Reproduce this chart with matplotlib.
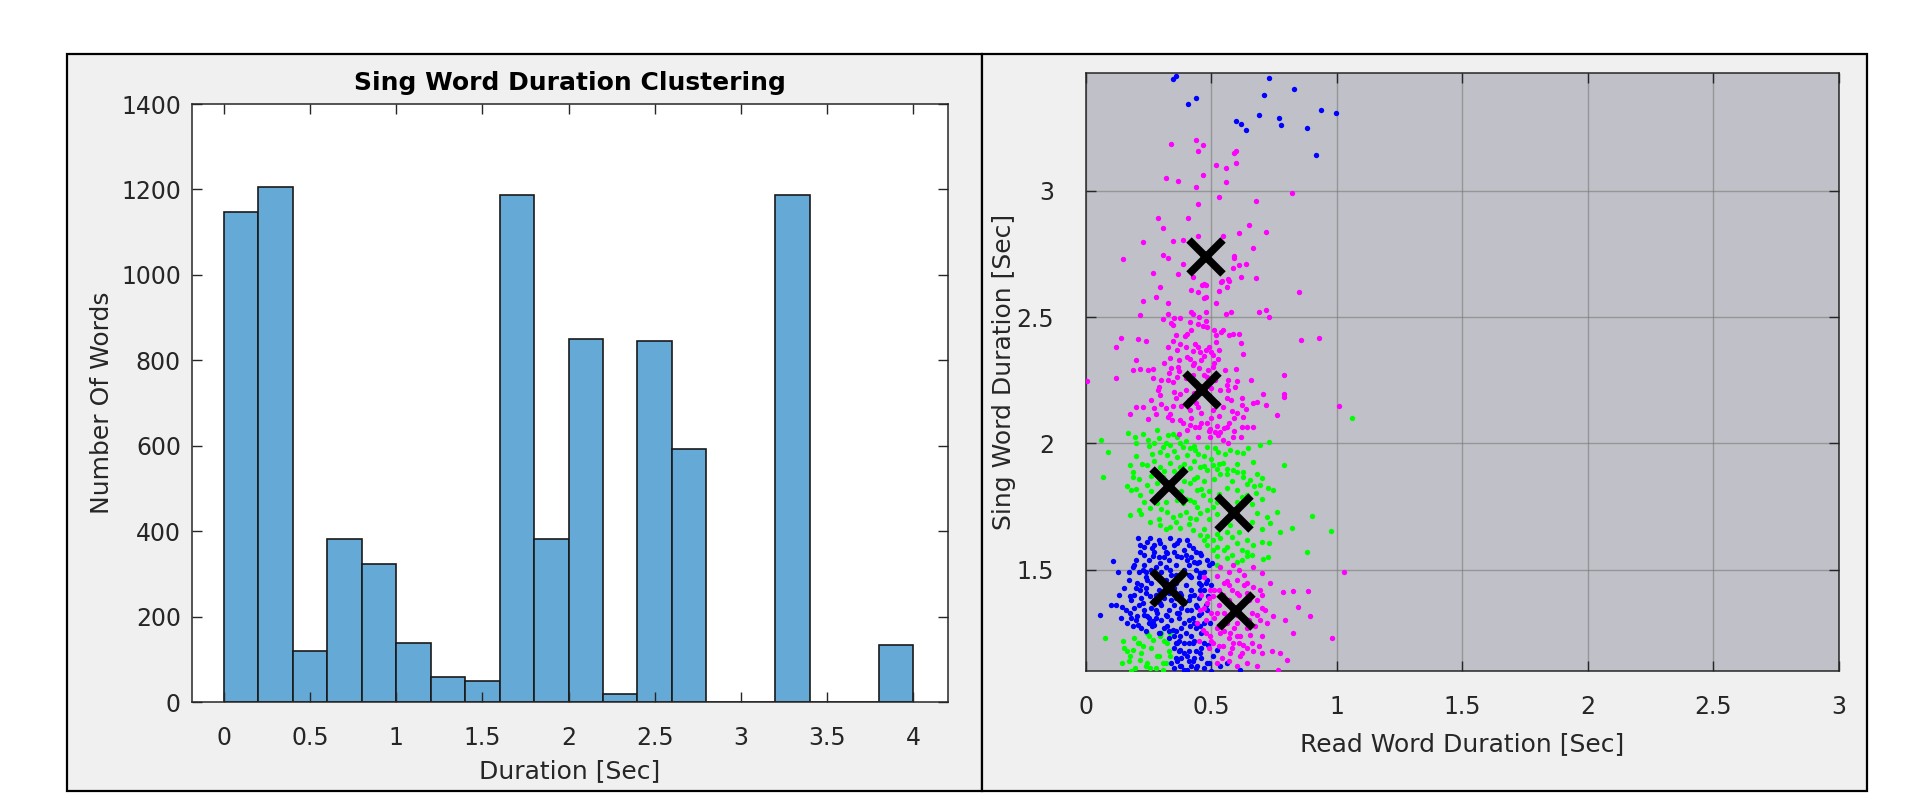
import matplotlib
matplotlib.use("Agg")
import matplotlib.pyplot as plt
from matplotlib.patches import Rectangle

plt.rcParams['font.family'] = ['DejaVu Sans']

# ---------------- histogram data ----------------
bin_edges = [0.0, 0.2, 0.4, 0.6, 0.8, 1.0, 1.2, 1.4, 1.6, 1.8, 2.0,
             2.2, 2.4, 2.6, 2.8, 3.0, 3.2, 3.4, 3.6, 3.8, 4.0]
counts = [1148, 1205, 120, 382, 324, 138, 58, 48, 1187, 382, 849,
          19, 845, 592, 0, 0, 1187, 0, 0, 134]
hist_xticks = [0, 0.5, 1, 1.5, 2, 2.5, 3, 3.5, 4]
hist_xticklabels = ['0', '0.5', '1', '1.5', '2', '2.5', '3', '3.5', '4']
hist_yticks = [0, 200, 400, 600, 800, 1000, 1200, 1400]

# ---------------- scatter data (read word dur, sing word dur) ----------------
blue_pts = [
    (0.348, 3.440), (0.357, 3.453), (0.408, 3.342), (0.438, 3.365), (0.598, 3.276),
    (0.618, 3.265), (0.637, 3.240), (0.689, 3.298), (0.708, 3.377), (0.729, 3.447),
    (0.769, 3.288), (0.778, 3.261), (0.829, 3.401), (0.879, 3.246), (0.918, 3.140),
    (0.938, 3.317), (0.997, 3.306),
    (0.106, 1.536), (0.129, 1.493), (0.208, 1.625), (0.242, 1.612), (0.262, 1.585),
    (0.295, 1.605), (0.335, 1.625), (0.361, 1.605), (0.401, 1.618), (0.428, 1.585),
    (0.454, 1.566), (0.481, 1.539), (0.501, 1.526), (0.215, 1.572), (0.189, 1.513),
    (0.228, 1.500), (0.268, 1.553), (0.321, 1.566), (0.361, 1.553), (0.401, 1.539),
    (0.441, 1.526), (0.242, 1.461), (0.282, 1.474), (0.374, 1.474), (0.414, 1.474),
    (0.454, 1.487), (0.481, 1.461), (0.202, 1.447), (0.175, 1.395), (0.215, 1.421),
    (0.255, 1.395), (0.295, 1.369), (0.374, 1.408), (0.414, 1.395), (0.454, 1.421),
    (0.487, 1.395), (0.120, 1.362), (0.142, 1.355), (0.056, 1.322), (0.175, 1.329),
    (0.202, 1.316), (0.242, 1.316), (0.268, 1.296), (0.321, 1.316), (0.361, 1.329),
    (0.401, 1.342), (0.441, 1.355), (0.208, 1.283), (0.262, 1.276), (0.295, 1.250),
    (0.348, 1.263), (0.374, 1.237), (0.414, 1.276), (0.428, 1.211), (0.374, 1.184),
    (0.401, 1.158), (0.454, 1.171), (0.481, 1.132), (0.374, 1.119), (0.441, 1.119),
    (0.507, 1.158), (0.534, 1.119), (0.560, 1.132), (0.614, 1.105), (0.361, 1.211),
    (0.321, 1.276), (0.282, 1.329), (0.428, 1.309), (0.454, 1.276), (0.295, 1.526),
    (0.335, 1.500), (0.228, 1.369), (0.189, 1.276), (0.162, 1.290), (0.481, 1.342),
    (0.494, 1.290), (0.401, 1.105), (0.428, 1.138), (0.487, 1.204), (0.521, 1.184),
    (0.361, 1.138),
    (0.23, 1.59), (0.27, 1.60), (0.31, 1.59), (0.35, 1.60), (0.39, 1.58), (0.25, 1.54),
    (0.29, 1.55), (0.33, 1.54), (0.38, 1.55), (0.42, 1.55), (0.21, 1.49), (0.26, 1.50),
    (0.30, 1.49), (0.34, 1.48), (0.39, 1.50), (0.44, 1.50), (0.47, 1.49), (0.22, 1.44),
    (0.26, 1.45), (0.31, 1.44), (0.36, 1.45), (0.40, 1.44), (0.45, 1.45), (0.19, 1.40),
    (0.24, 1.41), (0.28, 1.40), (0.33, 1.41), (0.38, 1.40), (0.43, 1.40), (0.47, 1.42),
    (0.21, 1.36), (0.26, 1.35), (0.30, 1.36), (0.35, 1.36), (0.39, 1.37), (0.44, 1.36),
    (0.18, 1.31), (0.23, 1.32), (0.28, 1.31), (0.32, 1.32), (0.37, 1.31), (0.41, 1.30),
    (0.45, 1.32), (0.22, 1.27), (0.27, 1.28), (0.31, 1.27), (0.36, 1.26), (0.40, 1.25),
    (0.44, 1.27), (0.33, 1.23), (0.37, 1.22), (0.41, 1.21), (0.35, 1.19), (0.39, 1.17),
    (0.44, 1.18), (0.36, 1.15), (0.41, 1.14), (0.38, 1.12), (0.46, 1.15), (0.34, 1.13),
    (0.44, 1.11), (0.49, 1.13), (0.40, 1.10), (0.36, 1.21), (0.46, 1.25), (0.48, 1.36),
    (0.50, 1.44), (0.49, 1.52), (0.46, 1.56), (0.20, 1.54), (0.17, 1.46), (0.16, 1.34),
    (0.24, 1.47), (0.29, 1.42), (0.34, 1.38), (0.37, 1.33), (0.30, 1.30), (0.25, 1.29),
    (0.42, 1.47), (0.32, 1.57),
    (0.215, 1.60), (0.255, 1.625), (0.29, 1.62), (0.37, 1.62), (0.41, 1.60), (0.44, 1.57),
    (0.23, 1.56), (0.27, 1.57), (0.31, 1.55), (0.35, 1.57), (0.40, 1.56), (0.43, 1.53),
    (0.19, 1.52), (0.23, 1.52), (0.28, 1.51), (0.32, 1.51), (0.36, 1.52), (0.41, 1.52),
    (0.45, 1.53), (0.17, 1.49), (0.24, 1.49), (0.28, 1.47), (0.32, 1.46), (0.36, 1.48),
    (0.41, 1.48), (0.45, 1.47), (0.48, 1.45), (0.20, 1.43), (0.24, 1.43), (0.35, 1.43),
    (0.42, 1.42), (0.46, 1.44), (0.18, 1.38), (0.22, 1.39), (0.27, 1.38), (0.31, 1.39),
    (0.36, 1.39), (0.41, 1.38), (0.45, 1.39), (0.19, 1.35), (0.23, 1.34), (0.28, 1.34),
    (0.33, 1.34), (0.38, 1.35), (0.42, 1.34), (0.46, 1.33), (0.20, 1.30), (0.25, 1.31),
    (0.34, 1.30), (0.39, 1.29), (0.43, 1.29), (0.47, 1.29), (0.24, 1.26), (0.29, 1.25),
    (0.33, 1.26), (0.38, 1.27), (0.42, 1.24), (0.35, 1.24), (0.39, 1.21), (0.43, 1.22),
    (0.47, 1.21), (0.37, 1.18), (0.41, 1.18), (0.46, 1.19), (0.38, 1.15), (0.43, 1.15),
    (0.35, 1.11), (0.42, 1.12), (0.47, 1.11), (0.50, 1.10), (0.39, 1.105), (0.13, 1.40),
    (0.15, 1.43), (0.14, 1.31), (0.10, 1.36),
]

green_pts = [
    (1.060, 2.102),
    (0.058, 2.015), (0.088, 1.966), (0.169, 2.042), (0.195, 2.026), (0.228, 2.037),
    (0.248, 2.013), (0.271, 2.000), (0.282, 2.052), (0.328, 2.033), (0.345, 2.039),
    (0.361, 2.026), (0.308, 1.987), (0.335, 1.993), (0.374, 2.000), (0.388, 1.987),
    (0.414, 1.980), (0.434, 1.973), (0.448, 1.960), (0.401, 1.954), (0.361, 1.947),
    (0.321, 1.954), (0.295, 1.967), (0.262, 1.960), (0.481, 1.987), (0.514, 1.980),
    (0.527, 1.967), (0.554, 1.960), (0.574, 1.973), (0.600, 1.967), (0.627, 1.963),
    (0.647, 1.980), (0.693, 1.993), (0.729, 2.004), (0.667, 1.927), (0.789, 1.914),
    (0.175, 1.914), (0.222, 1.918), (0.242, 1.914), (0.189, 1.888), (0.295, 1.908),
    (0.335, 1.921), (0.374, 1.908), (0.414, 1.901), (0.454, 1.908), (0.507, 1.914),
    (0.547, 1.923), (0.587, 1.895), (0.627, 1.888), (0.680, 1.881), (0.066, 1.868),
    (0.441, 1.868), (0.481, 1.895), (0.534, 1.881),
    (0.189, 1.868), (0.162, 1.831), (0.178, 1.816), (0.215, 1.796), (0.242, 1.835),
    (0.282, 1.842), (0.308, 1.868), (0.374, 1.875), (0.414, 1.842), (0.441, 1.816),
    (0.361, 1.776), (0.388, 1.763), (0.414, 1.776), (0.441, 1.750), (0.467, 1.796),
    (0.494, 1.776), (0.560, 1.881), (0.600, 1.888), (0.627, 1.868), (0.653, 1.855),
    (0.700, 1.862), (0.693, 1.835), (0.726, 1.822), (0.744, 1.816), (0.560, 1.822),
    (0.600, 1.816), (0.640, 1.796), (0.677, 1.802), (0.175, 1.717), (0.212, 1.737),
    (0.255, 1.743), (0.282, 1.763), (0.321, 1.730), (0.348, 1.710), (0.374, 1.717),
    (0.414, 1.704), (0.454, 1.724), (0.481, 1.737), (0.507, 1.750), (0.534, 1.664),
    (0.574, 1.678), (0.627, 1.691), (0.680, 1.724), (0.720, 1.710), (0.760, 1.730),
    (0.733, 1.684), (0.773, 1.651), (0.819, 1.664), (0.899, 1.714), (0.975, 1.654),
    (0.255, 1.691), (0.295, 1.678), (0.335, 1.671), (0.374, 1.664), (0.428, 1.658),
    (0.454, 1.638), (0.481, 1.632), (0.507, 1.618), (0.534, 1.625), (0.560, 1.592),
    (0.600, 1.605), (0.640, 1.572), (0.667, 1.599), (0.700, 1.612), (0.730, 1.608),
    (0.879, 1.571), (0.560, 1.546), (0.600, 1.533), (0.640, 1.553), (0.707, 1.542),
    (0.726, 1.550), (0.507, 1.579), (0.521, 1.553), (0.481, 1.599), (0.520, 1.520),
    (0.20, 2.00), (0.25, 1.99), (0.29, 2.02), (0.32, 2.00), (0.35, 1.97), (0.40, 2.01),
    (0.43, 1.99), (0.47, 1.95), (0.50, 1.94), (0.53, 1.92), (0.20, 1.95), (0.27, 1.93),
    (0.31, 1.89), (0.35, 1.89), (0.39, 1.92), (0.43, 1.93), (0.47, 1.91), (0.52, 1.90),
    (0.56, 1.90), (0.60, 1.92), (0.21, 1.86), (0.26, 1.87), (0.35, 1.85), (0.39, 1.85),
    (0.43, 1.86), (0.47, 1.85), (0.51, 1.86), (0.58, 1.85), (0.64, 1.84), (0.67, 1.83),
    (0.20, 1.82), (0.26, 1.81), (0.30, 1.80), (0.38, 1.81), (0.46, 1.82), (0.49, 1.81),
    (0.53, 1.80), (0.62, 1.79), (0.66, 1.76), (0.70, 1.78), (0.23, 1.77), (0.27, 1.78),
    (0.32, 1.77), (0.40, 1.78), (0.43, 1.77), (0.52, 1.77), (0.56, 1.76), (0.60, 1.77),
    (0.22, 1.72), (0.30, 1.74), (0.40, 1.73), (0.44, 1.70), (0.49, 1.70), (0.52, 1.72),
    (0.66, 1.69), (0.70, 1.66), (0.29, 1.70), (0.32, 1.66), (0.36, 1.69), (0.41, 1.68),
    (0.47, 1.66), (0.52, 1.64), (0.56, 1.65), (0.61, 1.65), (0.64, 1.62), (0.58, 1.63),
    (0.62, 1.58), (0.55, 1.58), (0.58, 1.56), (0.52, 1.59), (0.47, 1.62), (0.62, 1.54),
    (0.66, 1.56),
    (0.076, 1.230), (0.149, 1.217), (0.142, 1.132), (0.189, 1.184), (0.208, 1.211),
    (0.242, 1.250), (0.268, 1.224), (0.295, 1.237), (0.321, 1.211), (0.335, 1.250),
    (0.175, 1.158), (0.215, 1.145), (0.242, 1.132), (0.282, 1.158), (0.308, 1.132),
    (0.335, 1.158), (0.162, 1.178), (0.195, 1.112), (0.255, 1.112), (0.308, 1.105),
    (0.228, 1.198),
    (0.19, 1.23), (0.22, 1.17), (0.26, 1.19), (0.29, 1.16), (0.31, 1.22), (0.17, 1.14),
    (0.24, 1.12), (0.28, 1.11), (0.32, 1.13), (0.21, 1.21), (0.25, 1.24), (0.33, 1.18),
    (0.18, 1.10), (0.30, 1.25), (0.15, 1.19),
]

magenta_pts = [
    (0.337, 3.185), (0.438, 3.201), (0.467, 3.182), (0.448, 3.156), (0.590, 3.148),
    (0.598, 3.156), (0.517, 3.101), (0.558, 3.090), (0.598, 3.111), (0.319, 3.051),
    (0.367, 3.036), (0.467, 3.061), (0.438, 3.013), (0.558, 3.035), (0.529, 2.976),
    (0.448, 2.946), (0.679, 2.960), (0.819, 2.989), (0.286, 2.892), (0.408, 2.892),
    (0.308, 2.852), (0.227, 2.796), (0.347, 2.800), (0.388, 2.806), (0.448, 2.819),
    (0.547, 2.822), (0.608, 2.834), (0.648, 2.864), (0.717, 2.838), (0.146, 2.731),
    (0.307, 2.747), (0.328, 2.734), (0.667, 2.771), (0.588, 2.743), (0.588, 2.735),
    (0.637, 2.708), (0.608, 2.705), (0.587, 2.694), (0.388, 2.708), (0.368, 2.671),
    (0.268, 2.675), (0.619, 2.659), (0.679, 2.655), (0.567, 2.652), (0.540, 2.642),
    (0.428, 2.658), (0.470, 2.630),
    (0.295, 2.618), (0.418, 2.607), (0.461, 2.626), (0.478, 2.626), (0.448, 2.598),
    (0.478, 2.581), (0.470, 2.576), (0.531, 2.602), (0.560, 2.620), (0.568, 2.644),
    (0.539, 2.637), (0.226, 2.565), (0.278, 2.578), (0.328, 2.556), (0.518, 2.555),
    (0.847, 2.599), (0.688, 2.519), (0.716, 2.526), (0.728, 2.499), (0.216, 2.506),
    (0.308, 2.493), (0.328, 2.513), (0.352, 2.497), (0.374, 2.497), (0.418, 2.519),
    (0.425, 2.513), (0.478, 2.519), (0.478, 2.486), (0.448, 2.473), (0.414, 2.480),
    (0.465, 2.463), (0.483, 2.460), (0.337, 2.476), (0.345, 2.467), (0.556, 2.513),
    (0.578, 2.519), (0.138, 2.418), (0.118, 2.381), (0.207, 2.414), (0.238, 2.407),
    (0.348, 2.405), (0.374, 2.394), (0.401, 2.434), (0.394, 2.423), (0.547, 2.449),
    (0.538, 2.440), (0.518, 2.427), (0.571, 2.427), (0.587, 2.434), (0.608, 2.434),
    (0.517, 2.401), (0.617, 2.397), (0.857, 2.410), (0.928, 2.418), (0.325, 2.381),
    (0.361, 2.368), (0.434, 2.394), (0.448, 2.381), (0.425, 2.365), (0.454, 2.361),
    (0.478, 2.368), (0.497, 2.361), (0.470, 2.344), (0.505, 2.348), (0.525, 2.335),
    (0.627, 2.355), (0.335, 2.339), (0.369, 2.331), (0.401, 2.342), (0.414, 2.335),
    (0.198, 2.331), (0.186, 2.292), (0.215, 2.294), (0.246, 2.289), (0.266, 2.296),
    (0.339, 2.300), (0.368, 2.302), (0.372, 2.286), (0.428, 2.309), (0.449, 2.300),
    (0.487, 2.292), (0.507, 2.302), (0.554, 2.292), (0.598, 2.296), (0.118, 2.260),
    (0.267, 2.260), (0.361, 2.263), (0.328, 2.250), (0.345, 2.243), (0.428, 2.269),
    (0.481, 2.263), (0.514, 2.250), (0.567, 2.250), (0.603, 2.247), (0.657, 2.250),
    (0.789, 2.269), (0.005, 2.246), (0.292, 2.223), (0.286, 2.210), (0.351, 2.204),
    (0.374, 2.194), (0.534, 2.213), (0.567, 2.210), (0.595, 2.223), (0.706, 2.197),
    (0.789, 2.197), (0.789, 2.184), (0.259, 2.171), (0.295, 2.190), (0.299, 2.155),
    (0.345, 2.147), (0.271, 2.142), (0.199, 2.144), (0.226, 2.144), (0.175, 2.118),
    (0.248, 2.098), (0.278, 2.118), (0.414, 2.131), (0.448, 2.144), (0.505, 2.131),
    (0.547, 2.144), (0.578, 2.171), (0.623, 2.151), (0.637, 2.138), (0.667, 2.158),
    (0.680, 2.164), (0.717, 2.151), (0.760, 2.114), (0.600, 2.121), (0.590, 2.101),
    (0.627, 2.105), (0.328, 2.105), (0.341, 2.092), (0.374, 2.092), (0.388, 2.079),
    (0.414, 2.072), (0.434, 2.065), (0.452, 2.065), (0.481, 2.079), (0.494, 2.059),
    (0.514, 2.046), (0.534, 2.046), (0.560, 2.065), (0.620, 2.065), (0.640, 2.065),
    (0.667, 2.065), (0.527, 2.033), (0.547, 2.013), (0.567, 2.000), (0.587, 2.026),
    (0.617, 2.026), (1.007, 2.147), (0.369, 2.039), (0.401, 2.052), (0.448, 2.026),
    (0.494, 2.026), (0.335, 2.118),
    (0.40, 2.26), (0.44, 2.24), (0.47, 2.27), (0.50, 2.22), (0.43, 2.20), (0.41, 2.17),
    (0.38, 2.15), (0.44, 2.16), (0.49, 2.18), (0.52, 2.16), (0.56, 2.18), (0.46, 2.12),
    (0.50, 2.10), (0.53, 2.11), (0.57, 2.08), (0.42, 2.10), (0.46, 2.08), (0.49, 2.05),
    (0.52, 2.07), (0.59, 2.05), (0.43, 2.32), (0.46, 2.33), (0.51, 2.32), (0.49, 2.38),
    (0.53, 2.37), (0.40, 2.38), (0.42, 2.45), (0.51, 2.45), (0.45, 2.50), (0.36, 2.43),
    (0.31, 2.32), (0.33, 2.28), (0.30, 2.25), (0.40, 2.21), (0.36, 2.18), (0.32, 2.14),
    (0.55, 2.06), (0.58, 2.13), (0.62, 2.18), (0.56, 2.23),
    (0.534, 1.513), (0.587, 1.520), (0.667, 1.513), (0.700, 1.487), (0.733, 1.447),
    (0.521, 1.474), (0.560, 1.454), (0.600, 1.461), (0.640, 1.447), (0.667, 1.434),
    (0.693, 1.421), (0.494, 1.421), (0.507, 1.395), (0.547, 1.401), (0.600, 1.408),
    (0.640, 1.408), (0.680, 1.382), (0.713, 1.342), (0.746, 1.316), (0.454, 1.342),
    (0.481, 1.369), (0.521, 1.329), (0.560, 1.316), (0.600, 1.290), (0.640, 1.303),
    (0.673, 1.276), (0.693, 1.303), (0.441, 1.290), (0.467, 1.263), (0.494, 1.237),
    (0.534, 1.250), (0.574, 1.250), (0.614, 1.237), (0.653, 1.244), (0.507, 1.211),
    (0.547, 1.198), (0.587, 1.211), (0.627, 1.204), (0.574, 1.171), (0.614, 1.158),
    (0.667, 1.178), (0.700, 1.171), (0.740, 1.178), (0.773, 1.171), (0.799, 1.145),
    (0.766, 1.105), (0.826, 1.250), (0.793, 1.300), (0.786, 1.411), (0.826, 1.418),
    (0.846, 1.355), (0.892, 1.316), (0.886, 1.417), (0.979, 1.230), (1.029, 1.493),
    (0.680, 1.119), (0.640, 1.132),
    (0.46, 1.40), (0.50, 1.33), (0.53, 1.36), (0.57, 1.38), (0.62, 1.36), (0.66, 1.33),
    (0.48, 1.30), (0.52, 1.27), (0.56, 1.29), (0.60, 1.24), (0.64, 1.27), (0.45, 1.22),
    (0.49, 1.19), (0.54, 1.15), (0.58, 1.19), (0.62, 1.17), (0.66, 1.21), (0.70, 1.24),
    (0.55, 1.45), (0.58, 1.42), (0.63, 1.44), (0.51, 1.42), (0.70, 1.35), (0.72, 1.29),
    (0.47, 1.35), (0.60, 1.32),
    (0.47, 1.47), (0.49, 1.39), (0.53, 1.42), (0.57, 1.44), (0.61, 1.40), (0.65, 1.38),
    (0.48, 1.25), (0.51, 1.31), (0.55, 1.33), (0.58, 1.35), (0.62, 1.31), (0.65, 1.30),
    (0.68, 1.32), (0.50, 1.22), (0.53, 1.20), (0.57, 1.23), (0.61, 1.21), (0.64, 1.19),
    (0.69, 1.20), (0.52, 1.13), (0.57, 1.14), (0.60, 1.12), (0.55, 1.26), (0.59, 1.27),
    (0.70, 1.40), (0.63, 1.48), (0.57, 1.49), (0.61, 1.50),
]

centroid_x = [0.332, 0.590, 0.332, 0.598, 0.477, 0.462]
centroid_y = [1.831, 1.724, 1.430, 1.338, 2.736, 2.211]

sc_xticks = [0, 0.5, 1, 1.5, 2, 2.5, 3]
sc_xticklabels = ['0', '0.5', '1', '1.5', '2', '2.5', '3']
sc_yticks = [1.5, 2, 2.5, 3]
sc_yticklabels = ['1.5', '2', '2.5', '3']

# ---------------- figure ----------------
W, H = 1908, 810
fig = plt.figure(figsize=(W / 100, H / 100), dpi=100, facecolor='white')

def fx(px):
    return px / W

def fy(py):
    return 1 - py / H

for (x0, x1) in [(67, 982), (982, 1867)]:
    fig.patches.append(Rectangle((fx(x0), fy(791)), fx(x1) - fx(x0), fy(54) - fy(791),
                                 transform=fig.transFigure, facecolor='#F0F0F0',
                                 edgecolor='black', linewidth=1.6, zorder=-5))

tick_color = '#262626'
TICK_FS = 17
LABEL_FS = 18

# ----- left: histogram -----
ax1 = fig.add_axes([fx(192), fy(702), fx(947.7) - fx(192), fy(104) - fy(702)])
ax1.set_zorder(2)
ax1.set_facecolor('white')
widths = [bin_edges[i + 1] - bin_edges[i] for i in range(len(counts))]
ax1.bar(bin_edges[:-1], counts, width=widths, align='edge',
        color='#65A9D7', edgecolor='#1a1a1a', linewidth=1.2)
ax1.set_xlim(-0.185, 4.2)
ax1.set_ylim(0, 1400)
ax1.set_xticks(hist_xticks)
ax1.set_xticklabels(hist_xticklabels)
ax1.set_yticks(hist_yticks)
ax1.tick_params(direction='in', length=7, width=1, colors=tick_color,
                labelsize=TICK_FS, top=True, right=True)
ax1.tick_params(axis='x', pad=17)
ax1.tick_params(axis='y', pad=8)
for s in ax1.spines.values():
    s.set_color('#262626')
    s.set_linewidth(1.1)
ax1.set_title('Sing Word Duration Clustering', fontsize=LABEL_FS,
              fontweight='bold', pad=10)
ax1.set_xlabel('Duration [Sec]', fontsize=LABEL_FS, color=tick_color, labelpad=7)
ax1.set_ylabel('Number Of Words', fontsize=LABEL_FS, color=tick_color, labelpad=5)

# ----- right: scatter -----
ax2 = fig.add_axes([fx(1086), fy(671), fx(1839) - fx(1086), fy(73) - fy(671)])
ax2.set_zorder(2)
ax2.set_facecolor('#C0C0C8')
for pts, col in [(green_pts, '#00FF00'), (blue_pts, '#0000FF'), (magenta_pts, '#FF00FF')]:
    xs = [p[0] for p in pts]
    ys = [p[1] for p in pts]
    ax2.scatter(xs, ys, s=15, c=col, linewidths=0, zorder=3)
ax2.plot(centroid_x, centroid_y, linestyle='none', marker='x', color='black',
         markersize=24, markeredgewidth=5.5, zorder=4)
ax2.set_xlim(0, 3)
ax2.set_ylim(1.1, 3.465)
ax2.set_xticks(sc_xticks)
ax2.set_xticklabels(sc_xticklabels)
ax2.set_yticks(sc_yticks)
ax2.set_yticklabels(sc_yticklabels)
ax2.grid(True, color='#7a7a7a', linewidth=1.0, alpha=0.6, zorder=1)
ax2.set_axisbelow(True)
ax2.tick_params(direction='in', length=7, width=1, colors=tick_color,
                labelsize=TICK_FS, top=True, right=True)
ax2.tick_params(axis='x', pad=17)
ax2.tick_params(axis='y', pad=23)
for s in ax2.spines.values():
    s.set_color('#262626')
    s.set_linewidth(1.1)
ax2.set_xlabel('Read Word Duration [Sec]', fontsize=LABEL_FS, color=tick_color, labelpad=10)
ax2.set_ylabel('Sing Word Duration [Sec]', fontsize=LABEL_FS, color=tick_color, labelpad=0)

fig.savefig('out.png', dpi=100, facecolor='white')
